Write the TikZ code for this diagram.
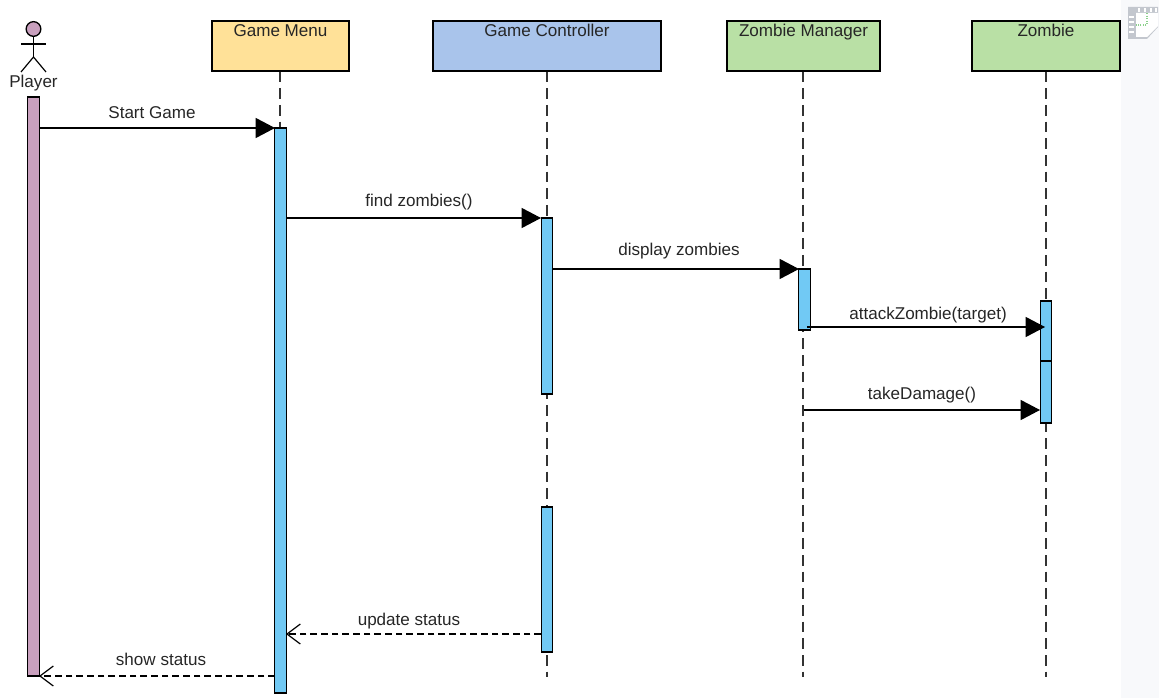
\documentclass[tikz,border=0pt]{standalone}
\usepackage{fontspec}
\setmainfont{Liberation Sans}
\usetikzlibrary{arrows.meta}

\tikzset{
  headbox/.style={draw, line width=1pt, minimum height=37.5pt, inner sep=0pt},
  headtext/.style={font=\fontsize{12.8}{14}\selectfont, inner sep=0pt, text height=9.2pt, text depth=2.7pt, yshift=-.75pt, text=black!85},
  msgtext/.style={headtext},
  actbar/.style={draw, line width=1pt, fill=barblue, minimum width=8.6pt, inner sep=0pt},
  lifeline/.style={line width=1.15pt, dash pattern=on 8pt off 4.5pt, black!80},
  callmsg/.style={line width=.9pt, -{Triangle[length=14.5pt,width=15pt]}},
  backmsg/.style={line width=.9pt, dash pattern=on 5pt off 3pt, -{Straight Barb[length=10pt,width=15pt,line width=.9pt]}}
}
\definecolor{barblue}{HTML}{71C9F4}
\definecolor{playerpink}{HTML}{C9A0BE}
\definecolor{menuyellow}{HTML}{FFE198}
\definecolor{ctrlblue}{HTML}{A9C4EB}
\definecolor{zombiegreen}{HTML}{B9E0A5}
\definecolor{panelgrey}{HTML}{F8F9FB}
\definecolor{icongrey}{HTML}{C3C7CE}

\begin{document}
\begin{tikzpicture}[x=.75pt,y=-.75pt]
\useasboundingbox (0,0) rectangle (1159,698);
\fill[panelgrey] (1121,0) rectangle (1159,698);

% note icon in the corner
\fill[icongrey] (1128,7) -- (1158,7) -- (1158,27) -- (1147,39) -- (1128,39) -- cycle;
\fill[white] (1136,13) -- (1158,13) -- (1158,26) -- (1147,37) -- (1136,37) -- cycle;
\foreach \x in {1139,1145,1151,1156}
  \draw[white, line width=1pt] (\x,8) -- (\x,12);
\foreach \y in {17,22,27,32}
  \draw[white, line width=1pt] (1129,\y) -- (1134,\y);
\draw[green!60!black!45, densely dotted, line width=.9pt] (1147,13) -- (1147,25) -- (1136,25);

% heads
\node[headbox, fill=menuyellow, minimum width=102.75pt] (menu) at (280.5,46) {};
\node[headbox, fill=ctrlblue, minimum width=171pt] (ctrl) at (547,46) {};
\node[headbox, fill=zombiegreen, minimum width=114.75pt] (mgr) at (803.5,46) {};
\node[headbox, fill=zombiegreen, minimum width=111pt] (zmb) at (1046,46) {};
\node[headtext] (menutext) at (280.5,31) {Game Menu};
\node[headtext] (ctrltext) at (547,31) {Game Controller};
\node[headtext] (mgrtext) at (803.5,31) {Zombie Manager};
\node[headtext] (zmbtext) at (1046,31) {Zombie};

% actor
\node[circle, draw, line width=1pt, fill=playerpink, minimum size=11pt, inner sep=0pt] (head) at (33.5,29) {};
\coordinate (hip) at (33.5,57);
\coordinate (armL) at (21,44);
\coordinate (armR) at (46,44);
\coordinate (legL) at (21,72);
\coordinate (legR) at (46,72);
\draw[line width=.9pt] (head) -- (hip);
\draw[line width=.9pt] (armL) -- (armR);
\draw[line width=.9pt] (legL) -- (hip) -- (legR);
\node[headtext] (player) at (33.5,82) {Player};

% lifelines
\coordinate (menuend) at (280.1,128);
\coordinate (ctrlend) at (547,677);
\coordinate (mgrend) at (803.1,677);
\coordinate (zmbend) at (1046,677);
\draw[lifeline] ([xshift=-.3pt]menu.south) -- (menuend);
\draw[lifeline] (ctrl.south) -- (ctrlend);
\draw[lifeline] ([xshift=-.3pt]mgr.south) -- (mgrend);
\draw[lifeline] (zmb.south) -- (zmbend);

% activations
\node[actbar, fill=playerpink, minimum height=434.25pt] (barP) at (33.5,386.5) {};
\node[actbar, minimum height=423.75pt] (barM) at (280.5,410.5) {};
\node[actbar, minimum height=132pt] (barC1) at (547,306) {};
\node[actbar, minimum height=108.75pt] (barC2) at (547,579.5) {};
\node[actbar, minimum height=45.75pt] (barG) at (804.5,299.5) {};
\node[actbar, minimum height=45pt] (barZ1) at (1046,331) {};
\node[actbar, minimum height=46.5pt] (barZ2) at (1046,392) {};

% messages
\coordinate (m1a) at (39,128);
\coordinate (m1b) at (275,128);
\coordinate (m2a) at (286,218);
\coordinate (m2b) at (541,218);
\coordinate (m3a) at (552,269);
\coordinate (m3b) at (799,269);
\coordinate (m4a) at (807,327);
\coordinate (m4b) at (1045,327);
\coordinate (m5a) at (803.5,410);
\coordinate (m5b) at (1040,410);
\coordinate (m6a) at (541,634);
\coordinate (m6b) at (286,634);
\coordinate (m7a) at (275,676);
\coordinate (m7b) at (39,676);
\draw[callmsg] (m1a) -- (m1b);
\draw[callmsg] (m2a) -- (m2b);
\draw[callmsg] (m3a) -- (m3b);
\draw[callmsg] (m4a) -- (m4b);
\draw[callmsg] (m5a) -- (m5b);
\draw[backmsg] (m6a) -- (m6b);
\draw[backmsg] (m7a) -- (m7b);

\node[msgtext] (m1) at (152,113) {Start Game};
\node[msgtext] (m2) at (419,201) {find zombies()};
\node[msgtext] (m3) at (679,250) {display zombies};
\node[msgtext] (m4) at (928,314) {attackZombie(target)};
\node[msgtext] (m5) at (922,394) {takeDamage()};
\node[msgtext] (m6) at (409,620) {update status};
\node[msgtext] (m7) at (161,660) {show status};
\end{tikzpicture}
\end{document}
